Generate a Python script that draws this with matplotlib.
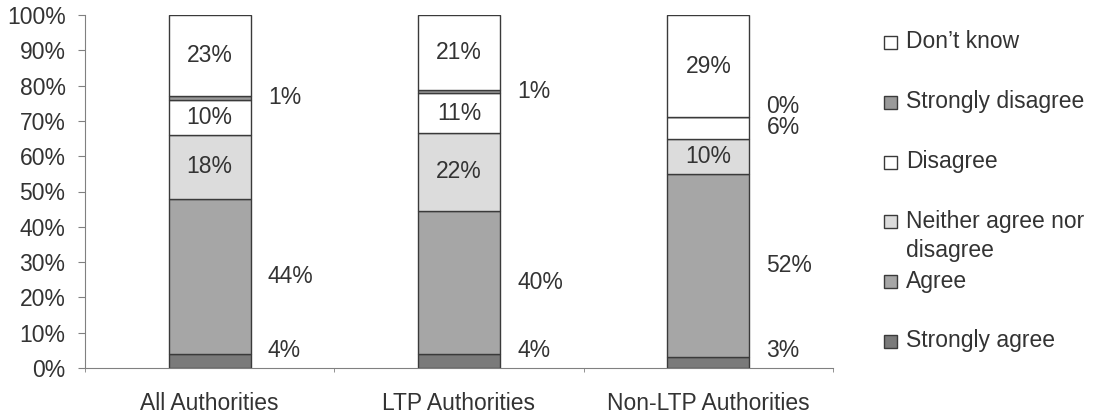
import matplotlib.pyplot as plt
import numpy as np
from matplotlib.patches import Rectangle

plt.rcParams['font.family'] = ['Liberation Sans', 'DejaVu Sans']

groups = ['All Authorities', 'LTP Authorities', 'Non-LTP Authorities']
answers = ['Strongly agree', 'Agree', 'Neither agree nor\ndisagree',
           'Disagree', 'Strongly disagree', "Don\u2019t know"]

strongly_agree = [4, 4, 3]
agree = [44, 40, 52]
neither = [18, 22, 10]
disagree = [10, 11, 6]
strongly_disagree = [1, 1, 0]
dont_know = [23, 21, 29]

colors = ['#7a7a7a', '#a6a6a6', '#dcdcdc', '#ffffff', '#9a9a9a', '#ffffff']
# labels drawn to the right of the bar for these answers
outside = [True, True, False, False, True, False]

text_col = '#333333'
fs = 16.5

values = np.array([strongly_agree, agree, neither, disagree,
                   strongly_disagree, dont_know], dtype=float)
shares = values / values.sum(axis=0) * 100

fig = plt.figure(figsize=(11.06, 4.17), dpi=100)
ax = fig.add_axes([85 / 1106, 49 / 417, 748 / 1106, 353 / 417])

x = np.arange(len(groups))
width = 0.33
bottom = np.zeros(len(groups))
for i, name in enumerate(answers):
    ax.bar(x, shares[i], width, bottom=bottom, color=colors[i],
           edgecolor='#3a3a3a', linewidth=1.0, zorder=2)
    for j in range(len(groups)):
        mid = bottom[j] + shares[i][j] / 2
        lab = '{:.0f}%'.format(values[i][j])
        if outside[i] or values[i][j] < 8:
            y = max(mid, 5)
            if values[i][j] == 0:
                y += 3
            ax.text(x[j] + width / 2 + 0.068, y, lab, ha='left', va='center',
                    fontsize=fs, color=text_col)
        else:
            ax.text(x[j], mid, lab, ha='center', va='center',
                    fontsize=fs, color=text_col)
    bottom += shares[i]

ax.set_xlim(-0.5, 2.5)
ax.set_ylim(0, 100)
ax.set_yticks(np.arange(0, 101, 10))
ax.set_yticklabels(['{}%'.format(t) for t in range(0, 101, 10)])
ax.set_xticks(x)
ax.set_xticklabels(groups)
ax.set_xticks([-0.5, 0.5, 1.5, 2.5], minor=True)

for s in ['top', 'right']:
    ax.spines[s].set_visible(False)
for s in ['left', 'bottom']:
    ax.spines[s].set_color('#808080')
ax.tick_params(axis='y', direction='out', length=5, color='#808080',
               labelsize=fs, labelcolor=text_col, pad=9)
ax.tick_params(axis='x', which='major', length=0, labelsize=fs,
               labelcolor=text_col, pad=17)
ax.tick_params(axis='x', which='minor', direction='out', length=3,
               color='#808080')

# legend, top entry = last segment; box lines up with the first text line
W, H = 1106, 417
for k, i in enumerate(range(len(answers) - 1, -1, -1)):
    yc = 42 + 59.8 * k
    fig.add_artist(Rectangle((884 / W, 1 - (yc + 7) / H), 13 / W, 13 / H,
                             transform=fig.transFigure, facecolor=colors[i],
                             edgecolor='#3a3a3a', linewidth=1.0))
    for n, line in enumerate(answers[i].split('\n')):
        fig.text(906 / W, 1 - (yc + 29 * n) / H, line, ha='left', va='center',
                 fontsize=fs, color=text_col)

fig.savefig('out.png', dpi=100)
